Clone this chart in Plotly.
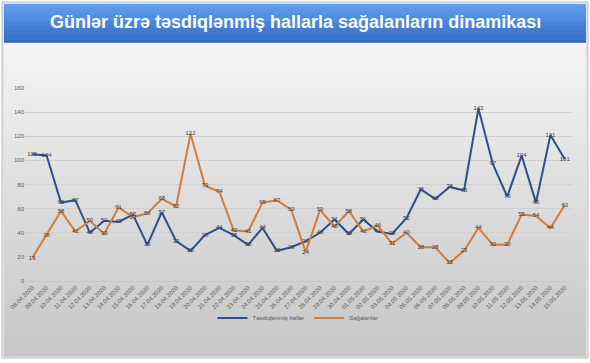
import plotly.graph_objects as go

dates = ["08.04.2020","09.04.2020","10.04.2020","11.04.2020","12.04.2020","13.04.2020","14.04.2020",
         "15.04.2020","16.04.2020","17.04.2020","18.04.2020","19.04.2020","20.04.2020","21.04.2020",
         "22.04.2020","23.04.2020","24.04.2020","25.04.2020","26.04.2020","27.04.2020","28.04.2020",
         "29.04.2020","30.04.2020","01.05.2020","02.05.2020","03.05.2020","04.05.2020","05.05.2020",
         "06.05.2020","07.05.2020","08.05.2020","09.05.2020","10.05.2020","11.05.2020","12.05.2020",
         "13.05.2020","14.05.2020","15.05.2020"]
confirmed = [105,104,65,67,40,50,49,55,30,57,33,25,38,44,38,30,44,25,28,33,
             40,51,39,51,41,39,52,76,68,78,75,143,97,70,104,65,121,101]
recovered = [19,38,58,41,50,39,61,53,56,68,62,122,79,74,42,41,65,67,59,24,
             59,45,58,41,46,31,40,28,28,15,25,44,30,30,55,54,44,63]
y_ticks = [0,20,40,60,80,100,120,140,160]

title = "Günlər üzrə təsdiqlənmiş hallarla sağalanların dinamikası"

W, H = 590, 363
L, R, T, B = 25, 18, 88, 82
PW, PH = W - L - R, H - T - B
def px(x): return (x - L) / PW
def py(y): return (H - B - y) / PH

def lerp(c1, c2, t):
    return "rgb(%d,%d,%d)" % tuple(round(a + (b - a) * t) for a, b in zip(c1, c2))

shapes = []
shapes.append(dict(type="rect", xref="paper", yref="paper", x0=px(2), x1=px(588), y0=py(358), y1=py(2),
                   fillcolor="#dfe3e8", line=dict(color="#b8c0c8", width=1), layer="below"))
top, bot = 44, 356
n = 60
c_top, c_bot = (244, 244, 244), (198, 198, 198)
for i in range(n):
    y0 = top + (bot - top) * i / n
    y1 = top + (bot - top) * (i + 1) / n + 0.6
    shapes.append(dict(type="rect", xref="paper", yref="paper", x0=px(4), x1=px(586),
                       y0=py(y1), y1=py(y0), fillcolor=lerp(c_top, c_bot, i / (n - 1)),
                       line=dict(width=0), layer="below"))
btop, bbot = 4, 42
nb = 20
b_top, b_bot = (96, 158, 238), (50, 110, 198)
for i in range(nb):
    y0 = btop + (bbot - btop) * i / nb
    y1 = btop + (bbot - btop) * (i + 1) / nb + 0.6
    shapes.append(dict(type="rect", xref="paper", yref="paper", x0=px(4), x1=px(586),
                       y0=py(y1), y1=py(y0), fillcolor=lerp(b_top, b_bot, i / (nb - 1)),
                       line=dict(width=0), layer="below"))
shapes.append(dict(type="line", xref="paper", yref="paper", x0=px(4), x1=px(586), y0=py(42), y1=py(42),
                   line=dict(color="#2a5ea8", width=1), layer="below"))
shapes.append(dict(type="rect", xref="paper", yref="paper", x0=px(4), x1=px(586), y0=py(46), y1=py(43),
                   fillcolor="#f4f6f8", line=dict(width=0), layer="below"))

fig = go.Figure()
fig.add_trace(go.Scatter(
    x=dates, y=confirmed, name="Təsdiqlənmiş hallar", mode="lines+text",
    line=dict(color="#2f4f8c", width=2), text=[str(v) for v in confirmed],
    textposition="middle center", textfont=dict(size=6, color="#404040"),
    cliponaxis=False))
fig.add_trace(go.Scatter(
    x=dates, y=recovered, name="Sağalanlar", mode="lines+text",
    line=dict(color="#d07c3c", width=2), text=[str(v) for v in recovered],
    textposition="middle center", textfont=dict(size=6, color="#404040"),
    cliponaxis=False))

fig.update_layout(
    width=W, height=H,
    margin=dict(l=L, r=R, t=T, b=B, autoexpand=False),
    paper_bgcolor="white", plot_bgcolor="rgba(0,0,0,0)",
    font=dict(family="Liberation Sans, Arial, sans-serif", color="#595959"),
    shapes=shapes,
    showlegend=True,
    legend=dict(orientation="h", x=px(298), xanchor="center", y=py(318), yanchor="middle",
                font=dict(size=6, color="#595959"), bgcolor="rgba(0,0,0,0)",
                itemwidth=30, tracegroupgap=0),
    annotations=[dict(text=title, xref="paper", yref="paper", x=px(295), y=py(22), xanchor="center",
                      yanchor="middle", showarrow=False,
                      font=dict(family="Liberation Sans, Arial, sans-serif",
                                size=18, color="white", weight="bold"))],
)
fig.update_xaxes(type="category", tickangle=-45, tickfont=dict(size=6, color="#595959"),
                 showgrid=False, showline=True, linecolor="#c8c8c8", linewidth=1, ticks="",
                 range=[-0.5, len(dates) - 0.5], fixedrange=True, automargin=False)
fig.update_yaxes(range=[0, 160], tickvals=y_ticks, tickfont=dict(size=6, color="#595959"),
                 showgrid=True, gridcolor="#d0d0d0", gridwidth=1, zeroline=False,
                 showline=False, ticks="", fixedrange=True, automargin=False)

fig.write_html("out.html", config={"displayModeBar": False},
               post_script="document.body.style.margin='0';document.body.style.overflow='hidden';")
